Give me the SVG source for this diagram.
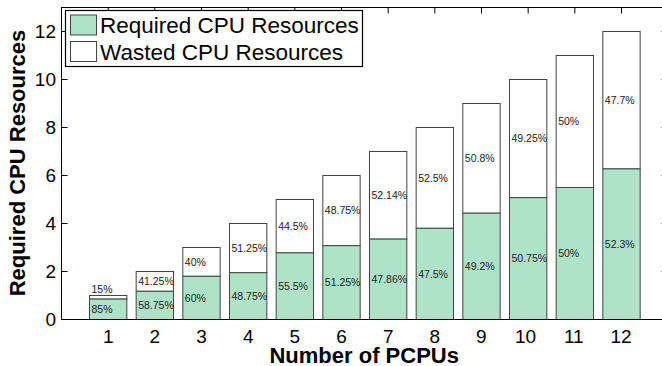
<svg xmlns="http://www.w3.org/2000/svg" width="662" height="366" viewBox="0 0 662 366">
<style>
text{font-family:"Liberation Sans",Arial,Helvetica,sans-serif;fill:#000}
.req{fill:#afe3c8;stroke:#444;stroke-width:1}
.was{fill:#fff;stroke:#444;stroke-width:1}
.pct{font-size:10.5px;fill:#222}
.tick{font-size:19px}
.ylab{font-size:19px;text-anchor:end}
.xlab{font-size:19px;text-anchor:middle}
.axtitle{font-size:22px;font-weight:bold;text-anchor:middle}
.leg{font-size:22.5px}
.ax{stroke:#000;stroke-width:1;fill:none}
</style>
<rect width="662" height="366" fill="#fff"/>
<g id="bars">
<g id="bar1"><rect class="was" x="89.5" y="295.5" width="37.33" height="3.6"/><rect class="req" x="89.5" y="299.1" width="37.33" height="20.4"/><text class="pct" x="91.5" y="293.3">15%</text><text class="pct" x="91.5" y="313.1">85%</text></g>
<g id="bar2"><rect class="was" x="136.17" y="271.5" width="37.33" height="19.8"/><rect class="req" x="136.17" y="291.3" width="37.33" height="28.2"/><text class="pct" x="138.2" y="285.2">41.25%</text><text class="pct" x="138.2" y="309.2">58.75%</text></g>
<g id="bar3"><rect class="was" x="182.83" y="247.5" width="37.33" height="28.8"/><rect class="req" x="182.83" y="276.3" width="37.33" height="43.2"/><text class="pct" x="184.8" y="265.7">40%</text><text class="pct" x="184.8" y="301.7">60%</text></g>
<g id="bar4"><rect class="was" x="229.5" y="223.5" width="37.33" height="49.2"/><rect class="req" x="229.5" y="272.7" width="37.33" height="46.8"/><text class="pct" x="231.5" y="251.9">51.25%</text><text class="pct" x="231.5" y="299.9">48.75%</text></g>
<g id="bar5"><rect class="was" x="276.17" y="199.5" width="37.33" height="53.4"/><rect class="req" x="276.17" y="252.9" width="37.33" height="66.6"/><text class="pct" x="278.2" y="230">44.5%</text><text class="pct" x="278.2" y="290">55.5%</text></g>
<g id="bar6"><rect class="was" x="322.83" y="175.5" width="37.33" height="70.2"/><rect class="req" x="322.83" y="245.7" width="37.33" height="73.8"/><text class="pct" x="324.8" y="214.4">48.75%</text><text class="pct" x="324.8" y="286.4">51.25%</text></g>
<g id="bar7"><rect class="was" x="369.5" y="151.5" width="37.33" height="87.6"/><rect class="req" x="369.5" y="239.1" width="37.33" height="80.4"/><text class="pct" x="371.5" y="199.1">52.14%</text><text class="pct" x="371.5" y="283.1">47.86%</text></g>
<g id="bar8"><rect class="was" x="416.17" y="127.5" width="37.33" height="100.8"/><rect class="req" x="416.17" y="228.3" width="37.33" height="91.2"/><text class="pct" x="418.2" y="181.7">52.5%</text><text class="pct" x="418.2" y="277.7">47.5%</text></g>
<g id="bar9"><rect class="was" x="462.83" y="103.5" width="37.33" height="109.7"/><rect class="req" x="462.83" y="213.2" width="37.33" height="106.3"/><text class="pct" x="464.8" y="162.2">50.8%</text><text class="pct" x="464.8" y="270.2">49.2%</text></g>
<g id="bar10"><rect class="was" x="509.5" y="79.5" width="37.33" height="118.2"/><rect class="req" x="509.5" y="197.7" width="37.33" height="121.8"/><text class="pct" x="511.5" y="142.4">49.25%</text><text class="pct" x="511.5" y="262.4">50.75%</text></g>
<g id="bar11"><rect class="was" x="556.17" y="55.5" width="37.33" height="132"/><rect class="req" x="556.17" y="187.5" width="37.33" height="132"/><text class="pct" x="558.2" y="125.3">50%</text><text class="pct" x="558.2" y="257.3">50%</text></g>
<g id="bar12"><rect class="was" x="602.83" y="31.5" width="37.33" height="137.4"/><rect class="req" x="602.83" y="168.9" width="37.33" height="150.6"/><text class="pct" x="604.8" y="104">47.7%</text><text class="pct" x="604.8" y="248">52.3%</text></g>
</g>
<g id="axes">
<rect class="ax" x="61.5" y="7.5" width="606.5" height="312"/>
<path class="ax" d="M61.5 319.5h6M61.5 271.5h6M61.5 223.5h6M61.5 175.5h6M61.5 127.5h6M61.5 79.5h6M61.5 31.5h6
M668 319.5h-6.5M668 271.5h-6.5M668 223.5h-6.5M668 175.5h-6.5M668 127.5h-6.5M668 79.5h-6.5M668 31.5h-6.5
M108.17 7.5v6M154.83 7.5v6M201.5 7.5v6M248.17 7.5v6M294.83 7.5v6M341.5 7.5v6M388.17 7.5v6M434.83 7.5v6M481.5 7.5v6M528.17 7.5v6M574.83 7.5v6M621.5 7.5v6"/>
<text class="ylab" x="56" y="326.3">0</text>
<text class="ylab" x="56" y="278.3">2</text>
<text class="ylab" x="56" y="230.3">4</text>
<text class="ylab" x="56" y="182.3">6</text>
<text class="ylab" x="56" y="134.3">8</text>
<text class="ylab" x="56" y="86.3">10</text>
<text class="ylab" x="56" y="38.3">12</text>
<text class="xlab" x="108.17" y="342.7">1</text>
<text class="xlab" x="154.83" y="342.7">2</text>
<text class="xlab" x="201.5" y="342.7">3</text>
<text class="xlab" x="248.17" y="342.7">4</text>
<text class="xlab" x="294.83" y="342.7">5</text>
<text class="xlab" x="341.5" y="342.7">6</text>
<text class="xlab" x="388.17" y="342.7">7</text>
<text class="xlab" x="434.83" y="342.7">8</text>
<text class="xlab" x="481.3" y="342.7">9</text>
<text class="xlab" x="525.5" y="342.7">10</text>
<text class="xlab" x="573.8" y="342.7">11</text>
<text class="xlab" x="621" y="342.7">12</text>
<text class="axtitle" x="364.2" y="363">Number of PCPUs</text>
<text class="axtitle" transform="translate(25 163) rotate(-90)" x="0" y="0">Required CPU Resources</text>
</g>
<g id="legend">
<rect x="65.5" y="10.5" width="297" height="56" fill="#fff" stroke="#000" stroke-width="1.2"/>
<rect class="req" x="70.5" y="15" width="26" height="20"/>
<rect class="was" x="70.5" y="41.5" width="26" height="20"/>
<text class="leg" x="100" y="33.3">Required CPU Resources</text>
<text class="leg" x="100" y="60">Wasted CPU Resources</text>
</g>
</svg>
